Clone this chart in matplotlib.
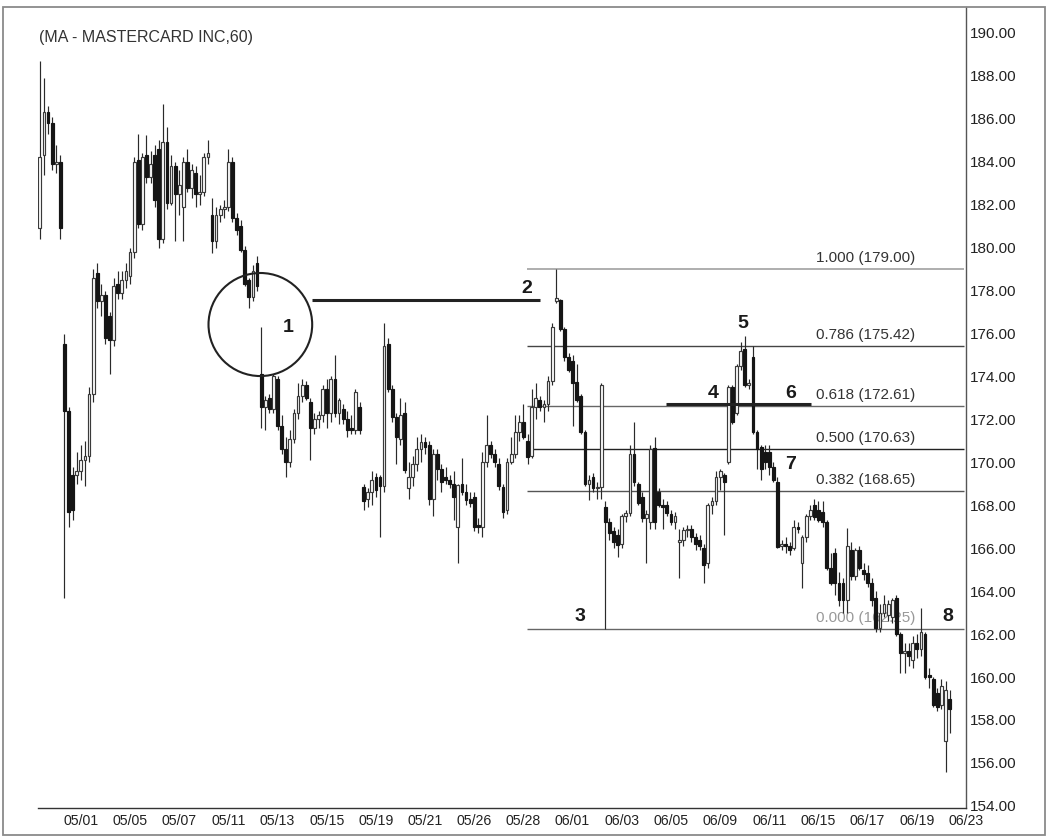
import numpy as np
import matplotlib.pyplot as plt
from matplotlib.patches import Ellipse, Rectangle

plt.rcParams['font.family'] = ['Liberation Sans', 'DejaVu Sans']

# hourly OHLC, one entry per bar
opens = [
    180.9, 184.3, 186.3, 185.8, 183.9, 184.0, 175.5, 172.4, 169.4, 169.4,
    169.6, 170.1, 170.3, 173.2, 178.8, 177.5, 177.8, 176.8, 175.7, 178.3,
    177.9, 178.5, 178.7, 179.8, 184.1, 181.1, 184.3, 183.3, 184.3, 184.6,
    180.4, 184.9, 182.1, 183.8, 182.5, 181.9, 184.0, 182.8, 183.5, 182.5,
    182.6, 184.2, 181.5, 180.3, 181.5, 181.8, 181.9, 184.0, 181.4, 181.0,
    179.9, 178.5, 177.7, 179.3, 174.1, 172.6, 173.0, 172.5, 173.9, 171.7,
    170.6, 170.0, 171.1, 172.3, 173.1, 173.6, 172.8, 171.6, 172.0, 172.2,
    173.4, 172.3, 173.9, 172.3, 172.5, 172.0, 171.6, 171.5, 172.6, 168.85,
    168.3, 168.6, 169.3, 169.3, 168.9, 175.5, 173.4, 172.1, 171.1, 172.3,
    168.8, 169.3, 169.9, 170.6, 170.95, 170.8, 168.3, 170.4, 169.7, 169.3,
    169.2, 169.0, 167.0, 169.0, 168.6, 168.3, 168.4, 167.1, 167.0, 170.0,
    170.8, 170.4, 169.9, 168.85, 167.8, 170.0, 170.4, 171.4, 171.9, 171.0,
    170.3, 172.6, 172.9, 172.6, 172.7, 173.8, 177.5, 177.55, 176.2, 174.9,
    174.7, 173.75, 173.1, 171.4, 169.0, 169.3, 168.8, 168.85, 167.9, 167.2,
    166.8, 166.6, 166.2, 167.5, 167.65, 170.4, 169.0, 168.4, 167.4, 167.2,
    170.65, 168.6, 168.0, 168.0, 167.6, 167.2, 166.3, 166.4, 166.85, 166.9,
    166.5, 166.4, 166.0, 165.3, 168.0, 168.2, 169.3, 169.4, 170.0, 173.5,
    172.3, 174.5, 175.3, 173.6, 174.9, 171.4, 170.7, 170.5, 170.5, 169.8,
    169.1, 166.1, 166.2, 166.1, 166.0, 167.0, 165.3, 166.5, 167.5, 168.0,
    167.8, 167.7, 167.2, 165.1, 165.8, 164.4, 164.4, 163.6, 165.9, 164.7,
    165.9, 165.0, 164.85, 164.4, 163.7, 162.3, 163.0, 162.9, 162.8, 163.7,
    162.0, 161.1, 161.2, 160.8, 161.6, 161.3, 162.0, 160.1, 159.9, 159.25,
    158.7, 157.0, 159.0,
]
highs = [
    188.7, 187.9, 186.6, 186.1, 184.8, 184.3, 176.0, 172.6, 169.8, 170.5,
    170.8, 171.0, 173.5, 179.0, 179.3, 178.3, 178.0, 177.0, 178.6, 178.9,
    178.9, 179.3, 180.0, 184.2, 185.3, 184.4, 185.25, 184.5, 184.8, 185.0,
    186.7, 185.6, 184.3, 184.0, 183.6, 184.2, 184.6, 183.9, 183.8, 183.4,
    184.4, 185.0, 182.3, 181.9, 182.0, 182.2, 184.6, 184.2, 181.6, 181.3,
    180.1, 178.6, 179.2, 179.6, 176.3, 173.1, 173.2, 174.1, 174.0, 172.2,
    171.2, 171.5, 172.5, 173.7, 173.9, 173.8, 173.0, 172.3, 172.4, 173.6,
    173.9, 174.0, 175.0, 173.0, 172.7, 172.4, 172.2, 173.4, 172.8, 169.0,
    168.8, 169.6, 169.5, 169.4, 176.5, 175.8, 173.6, 172.3, 173.0, 172.8,
    170.0, 170.3, 171.2, 171.3, 171.2, 171.0, 170.6, 170.6, 169.9, 169.8,
    169.4, 169.6, 169.0, 170.2, 169.0, 168.6, 168.6, 167.4, 170.5, 172.2,
    171.0, 170.6, 170.2, 169.0, 170.2, 171.2, 172.2, 172.2, 172.7, 171.3,
    173.4, 173.7, 173.1, 172.9, 174.0, 176.5, 179.0, 177.6, 176.3, 175.1,
    175.0, 174.6, 173.2, 171.5, 169.4, 169.5, 169.1, 173.7, 168.2, 167.4,
    167.0, 166.9, 167.6, 167.8, 170.8, 171.9, 169.1, 168.6, 167.8, 170.8,
    171.2, 168.8, 168.3, 168.2, 167.8, 167.7, 166.9, 167.0, 167.1, 167.1,
    166.7, 166.6, 166.2, 168.1, 168.4, 169.6, 169.7, 169.5, 173.6, 173.6,
    174.6, 175.6, 175.9, 173.9, 175.4, 171.5, 170.8, 170.8, 170.8, 170.0,
    169.3, 166.4, 166.5, 166.3, 167.3, 167.2, 166.6, 167.6, 168.0, 168.3,
    168.2, 168.2, 167.3, 165.8, 166.0, 164.9, 164.6, 166.95, 166.3, 166.0,
    166.1, 165.3, 165.2, 164.6, 164.0, 163.4, 163.8, 163.6, 163.7, 163.8,
    162.1, 161.6, 161.6, 161.9, 162.0, 163.2, 162.1, 160.4, 160.0, 159.5,
    159.9, 159.8, 159.4,
]
lows = [
    180.4, 183.4, 185.3, 183.6, 183.5, 180.4, 163.7, 167.0, 167.3, 169.0,
    169.2, 168.9, 170.0, 172.8, 177.2, 176.8, 175.5, 174.1, 175.4, 177.6,
    177.6, 178.1, 178.3, 179.5, 180.9, 180.8, 183.0, 183.0, 181.9, 180.0,
    180.2, 181.8, 182.0, 180.3, 181.5, 180.3, 182.6, 182.3, 181.9, 182.0,
    182.4, 183.9, 179.75, 180.0, 181.2, 181.4, 181.7, 181.2, 180.6, 179.8,
    178.2, 177.2, 177.5, 178.0, 171.6, 171.5, 172.3, 172.3, 171.5, 170.4,
    169.3, 169.8, 170.9, 172.0, 172.8, 172.9, 170.1, 171.3, 171.6, 171.9,
    171.6, 171.9, 172.1, 171.8, 171.8, 171.2, 171.3, 171.3, 171.3, 167.8,
    167.9, 168.0, 168.4, 166.5, 168.6, 173.3, 171.9, 169.9, 170.8, 169.5,
    168.3, 168.9, 169.6, 170.0, 170.4, 168.0, 167.5, 169.2, 168.6, 169.0,
    168.8, 167.3, 165.3, 168.5, 168.0, 167.9, 166.8, 166.7, 166.5, 169.8,
    170.2, 169.8, 168.7, 167.4, 167.6, 169.9, 170.2, 171.0, 171.1, 169.9,
    170.2, 172.0, 172.4, 171.9, 172.4, 173.6, 177.4, 176.1, 174.7, 174.2,
    171.7, 172.8, 171.3, 168.9, 168.25, 168.6, 168.3, 168.3, 162.25, 166.4,
    166.0, 165.6, 166.0, 167.2, 167.5, 168.9, 168.0, 167.2, 165.3, 166.9,
    166.9, 167.9, 166.9, 167.5, 167.1, 166.9, 164.6, 166.1, 166.5, 166.3,
    165.9, 165.9, 164.4, 165.1, 167.6, 168.0, 168.7, 166.6, 169.9, 171.8,
    172.2, 174.3, 173.5, 173.4, 171.3, 169.7, 169.2, 169.7, 169.4, 169.1,
    166.0, 165.9, 165.8, 165.7, 165.9, 166.7, 164.15, 166.3, 167.3, 167.3,
    167.2, 167.0, 165.0, 164.3, 163.8, 163.3, 163.0, 163.0, 164.5, 164.5,
    165.0, 164.5, 164.2, 163.3, 162.1, 162.1, 162.8, 162.6, 162.5, 161.9,
    160.2, 160.2, 160.5, 160.4, 160.9, 161.0, 159.9, 159.5, 158.6, 158.4,
    158.5, 155.6, 157.4,
]
closes = [
    184.2, 186.3, 185.8, 183.9, 184.0, 180.9, 172.4, 167.7, 167.8, 169.6,
    170.1, 170.3, 173.2, 178.6, 177.5, 177.8, 175.8, 175.7, 178.2, 177.9,
    178.5, 178.9, 179.8, 184.0, 181.1, 184.2, 183.3, 183.9, 182.2, 180.4,
    184.9, 182.1, 183.8, 182.5, 182.9, 184.0, 182.8, 183.6, 182.5, 182.6,
    184.2, 184.4, 180.3, 181.5, 181.8, 181.9, 184.0, 181.4, 180.8, 179.9,
    178.3, 177.7, 178.9, 178.2, 172.6, 172.9, 172.5, 174.0, 171.7, 170.6,
    170.0, 171.1, 172.3, 173.1, 173.6, 173.0, 171.6, 172.0, 172.2, 173.4,
    172.3, 173.9, 172.3, 172.9, 172.0, 171.5, 171.5, 173.3, 171.5, 168.2,
    168.6, 169.2, 168.7, 168.9, 175.4, 173.4, 172.1, 171.2, 172.2, 169.65,
    169.3, 169.9, 170.6, 170.95, 170.7, 168.3, 170.4, 169.7, 169.1, 169.2,
    169.0, 168.4, 168.95, 168.6, 168.25, 168.1, 167.0, 167.0, 170.0, 170.8,
    170.4, 170.0, 168.9, 167.7, 170.0, 170.4, 171.4, 171.9, 171.2, 170.25,
    172.6, 173.0, 172.6, 172.7, 173.8, 176.3, 177.65, 176.2, 174.9, 174.3,
    173.7, 172.9, 171.4, 169.0, 169.2, 168.8, 168.85, 173.6, 167.2, 166.7,
    166.3, 166.15, 167.5, 167.65, 170.4, 169.1, 168.1, 167.4, 167.6, 170.6,
    167.2, 168.0, 167.9, 167.65, 167.2, 167.5, 166.4, 166.85, 166.9, 166.5,
    166.2, 166.1, 165.2, 168.0, 168.2, 169.3, 169.6, 169.1, 173.5, 171.9,
    174.5, 175.2, 173.6, 173.7, 171.4, 170.6, 169.7, 170.0, 169.8, 169.2,
    166.05, 166.2, 166.1, 165.9, 167.0, 166.9, 166.5, 167.5, 167.8, 167.45,
    167.3, 167.2, 165.1, 164.4, 164.4, 163.6, 163.6, 166.1, 164.7, 165.9,
    165.1, 164.8, 164.4, 163.6, 162.3, 163.0, 163.4, 163.4, 163.6, 162.0,
    161.1, 161.2, 161.0, 161.6, 161.3, 162.1, 160.0, 160.0, 158.7, 158.6,
    159.6, 159.4, 158.5,
]

date_labels = ['05/01', '05/05', '05/07', '05/11', '05/13', '05/15', '05/19',
               '05/21', '05/26', '05/28', '06/01', '06/03', '06/05', '06/09',
               '06/11', '06/15', '06/17', '06/19', '06/23']
bars_per_label = 12
first_label_bar = 10

fib_ratios = [1.000, 0.786, 0.618, 0.500, 0.382, 0.000]
fib_values = [179.00, 175.42, 172.61, 170.63, 168.65, 162.25]
fib_start_bar = 118.8

o = np.array(opens)
h = np.array(highs)
l = np.array(lows)
c = np.array(closes)
n = min(len(o), len(h), len(l), len(c))
o, h, l, c = o[:n], h[:n], l[:n], c[:n]
x = np.arange(n)

fig = plt.figure(figsize=(10.5, 8.39), dpi=100)
ax = fig.add_axes([38 / 1050, 31 / 839, 928 / 1050, 801 / 839])

# candles
ax.vlines(x, l, h, color='#2a2a2a', linewidth=0.85, zorder=3)
up = c >= o
body_lo = np.minimum(o, c)
body_h = np.maximum(np.abs(c - o), 0.06)
ax.bar(x[up], body_h[up], bottom=body_lo[up], width=0.68, color='white',
       edgecolor='#3a3a3a', linewidth=0.85, zorder=4)
ax.bar(x[~up], body_h[~up], bottom=body_lo[~up], width=0.68, color='#151515',
       edgecolor='#151515', linewidth=0.85, zorder=4)

# fibonacci retracement
fib_colors = ['#a8a8a8', '#444444', '#666666', '#222222', '#555555', '#666666']
x_end = 225.44
for r, v, col in zip(fib_ratios, fib_values, fib_colors):
    ax.hlines(v, fib_start_bar, x_end, color=col,
              linewidth=1.3 if r == 1.0 else 1.0, zorder=2)
    ax.annotate(f'{r:.3f} ({v:.2f})', xy=(189.4, v), xytext=(0, 3),
                textcoords='offset points', ha='left', va='bottom',
                fontsize=11, color='#999999' if r == 0.0 else '#333333',
                zorder=1)

# annotations
ax.add_patch(Ellipse((53.8, 176.42), 25.3, 4.8, fill=False,
                     edgecolor='#222222', linewidth=1.5, zorder=5))
ax.hlines(177.55, 66.3, 122.0, color='#222222', linewidth=2.2, zorder=5)
ax.hlines(172.7, 152.9, 188.2, color='#222222', linewidth=2.2, zorder=5)
marks = [('1', 60.6, 176.3), ('2', 118.8, 178.12), ('3', 131.9, 162.8),
         ('4', 164.3, 173.23), ('5', 171.6, 176.45), ('6', 183.1, 173.23),
         ('7', 183.3, 169.88), ('8', 221.5, 162.8)]
for txt, mx, my in marks:
    ax.text(mx, my, txt, fontsize=14, fontweight='bold', color='#1a1a1a',
            ha='center', va='center', zorder=6)

ax.text(-0.1, 189.8, '(MA - MASTERCARD INC,60)', fontsize=11.5,
        color='#333333', ha='left', va='center')

ax.set_xlim(-0.46, x_end)
ax.set_ylim(153.9, 191.21)

ax.yaxis.tick_right()
ax.set_yticks(np.arange(154, 191, 2))
ax.set_yticklabels([f'{v:.2f}' for v in np.arange(154, 191, 2)])
ax.set_xticks([first_label_bar + bars_per_label * k for k in range(len(date_labels))])
ax.set_xticklabels(date_labels)
ax.tick_params(axis='y', length=0, pad=2.5, labelsize=11, labelcolor='#222222')
ax.tick_params(axis='x', length=0, pad=4, labelsize=10.2, labelcolor='#222222')

for side in ['top', 'left']:
    ax.spines[side].set_visible(False)
ax.spines['right'].set_color('#555555')
ax.spines['bottom'].set_color('#333333')
ax.spines['right'].set_linewidth(1.0)
ax.spines['bottom'].set_linewidth(1.0)

fig.patches.append(Rectangle((3 / 1050, 4 / 839), 1042 / 1050, 828 / 839,
                             transform=fig.transFigure, fill=False,
                             edgecolor='#8a8a8a', linewidth=1.3))

fig.savefig('out.png', dpi=100)
